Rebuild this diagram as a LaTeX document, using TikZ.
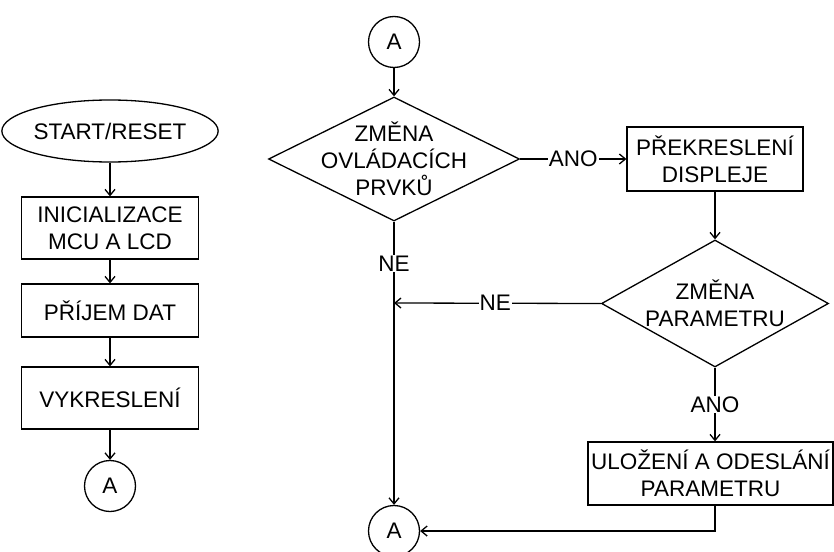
\documentclass[tikz,border=0pt]{standalone}
\usepackage{fontspec}
\setmainfont{Liberation Sans}
\usetikzlibrary{shapes.geometric,arrows.meta}
\begin{document}
\begin{tikzpicture}[x=1pt,y=-1pt,
  every node/.style={font=\fontsize{22.5}{27}\selectfont, align=center},
  box/.style={draw, line width=1.3pt, rectangle, inner sep=0pt},
  circ/.style={draw, line width=1.3pt, circle, minimum size=51pt, inner sep=0pt},
  dia/.style={draw, line width=1.3pt, diamond, inner sep=0pt},
  conn/.style={line width=1.3pt, -{Straight Barb[length=6pt,width=10pt,line width=1.3pt]}},
  lbl/.style={fill=white, inner sep=1pt}]
\useasboundingbox (0,0) rectangle (834,551);
% left column
\node[draw, line width=1.3pt, ellipse, minimum width=204pt, minimum height=62pt, inner sep=0pt] (start) at (110,131) {START/RESET};
\node[box, minimum width=177pt, minimum height=62pt] (init) at (110,228) {INICIALIZACE\\MCU A LCD};
\node[box, minimum width=177pt, minimum height=53pt] (prijem) at (110,310.5) {PŘÍJEM DAT};
\node[box, minimum width=177pt, minimum height=62pt] (vykr) at (110,398) {VYKRESLENÍ};
\node[circ] (aL) at (110,486) {A};
\draw[conn] (start) -- (init);
\draw[conn] (init) -- (prijem);
\draw[conn] (prijem) -- (vykr);
\draw[conn] (vykr) -- (aL);
% right part
\node[circ] (aT) at (394,42) {A};
\node[dia, minimum width=251pt, minimum height=124pt] (d1) at (394,159) {};
\node (d1t) at (394,159) {ZMĚNA\\OVLÁDACÍCH\\PRVKŮ};
\node[box, minimum width=176pt, minimum height=64pt] (prek) at (715,159) {PŘEKRESLENÍ\\DISPLEJE};
\node[dia, minimum width=227pt, minimum height=127pt] (d2) at (715,303.5) {};
\node (d2t) at (715,303.5) {ZMĚNA\\PARAMETRU};
\node[box, minimum width=245pt, minimum height=63pt] (ulo) at (710.5,473.5) {ULOŽENÍ A ODESLÁNÍ\\PARAMETRU};
\node[circ] (aB) at (394,531) {A};
\coordinate (j) at (394,303);
\coordinate (c) at (715,531);
\draw[conn] (aT) -- (d1.north);
\draw[conn] (d1.east) -- node[lbl] {ANO} (prek.west);
\draw[conn] (prek) -- (d2.north);
\draw[conn] (d1.south) -- node[lbl, pos=0.148] {NE} (aB.north);
\draw[conn] (d2.west) -- node[lbl, pos=0.51] {NE} (j);
\draw[conn] (d2.south) -- node[lbl] {ANO} (ulo.north -| d2.south);
\draw[conn] (ulo.south -| c) -- (c) -- (aB.east);
\end{tikzpicture}
\end{document}
